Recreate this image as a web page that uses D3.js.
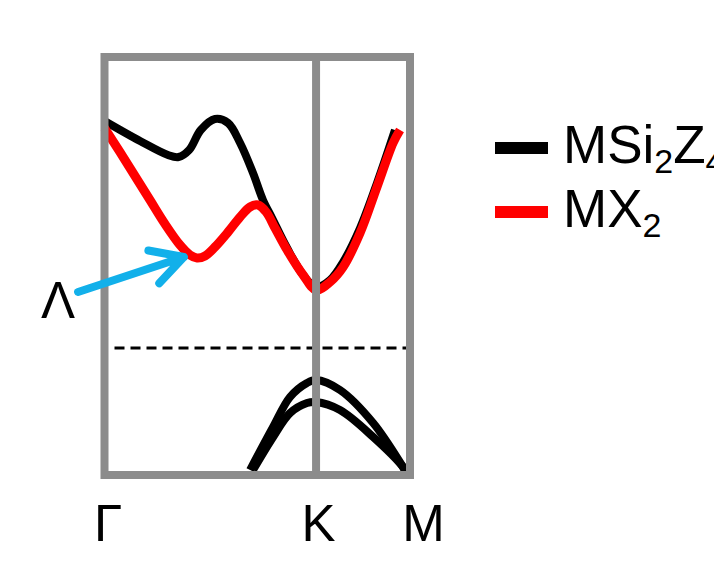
<!DOCTYPE html>
<html>
<head>
<meta charset="utf-8">
<script src="https://cdn.jsdelivr.net/npm/d3@7"></script>
<style>
  html, body { margin: 0; padding: 0; background: #fff; }
  svg { display: block; }
  text { font-family: "Liberation Sans", Arial, sans-serif; fill: #000; }
</style>
</head>
<body>
<svg id="chart" width="714" height="564"></svg>
<script>
// ---- data ----
const kLabels = ["Γ", "K", "M"];
const kTicks = [0, 1, 1.444];

// conduction band, MSi2Z4 (black): [k, E]
const msiConduction = [
  [0, 2.27], [0.168, 2.07], [0.300, 1.93], [0.350, 1.91], [0.400, 1.98],
  [0.455, 2.18], [0.522, 2.29], [0.584, 2.25], [0.641, 2.05], [0.702, 1.75],
  [0.749, 1.48], [0.792, 1.30], [0.863, 1.00], [0.939, 0.73], [1.0, 0.61],
  [1.066, 0.68], [1.128, 0.86], [1.208, 1.20], [1.288, 1.65], [1.373, 2.18]
];
// conduction band, MX2 (red)
const mxConduction = [
  [0, 2.20], [0.073, 1.96], [0.144, 1.72], [0.215, 1.48], [0.286, 1.24],
  [0.357, 1.03], [0.404, 0.93], [0.437, 0.90], [0.475, 0.92], [0.522, 1.01],
  [0.584, 1.16], [0.641, 1.31], [0.688, 1.41], [0.726, 1.43], [0.764, 1.36],
  [0.806, 1.20], [0.863, 0.98], [0.939, 0.73], [1.0, 0.58], [1.066, 0.66],
  [1.128, 0.81], [1.208, 1.15], [1.288, 1.61], [1.364, 2.05], [1.397, 2.18]
];
// valence bands, MSi2Z4 (black)
const msiValenceUpper = [
  [0.688, -1.22], [0.797, -0.79], [0.877, -0.49], [0.957, -0.35], [1.0, -0.32],
  [1.113, -0.42], [1.270, -0.75], [1.411, -1.19], [1.425, -1.24]
];
const msiValenceLower = [
  [0.702, -1.22], [0.797, -0.89], [0.877, -0.65], [0.957, -0.55], [1.0, -0.54],
  [1.113, -0.62], [1.270, -0.89], [1.411, -1.19], [1.425, -1.24]
];
const fermiLevel = 0;
// annotation arrow (k, E) for the Λ valley
const lambdaArrow = { from: [-0.125, 0.56], to: [0.375, 0.91] };

// ---- layout ----
const svg = d3.select("#chart");
const x = d3.scaleLinear().domain([0, 1.444]).range([104.5, 410]);
const y = d3.scaleLinear().domain([-1.27, 2.91]).range([475, 57]);
const gray = "#8c8c8c";
const cyan = "#12b0ea";

const line = d3.line().x(d => x(d[0])).y(d => y(d[1])).curve(d3.curveCatmullRom.alpha(0.5));

// bands
const bands = [
  { data: msiValenceUpper, color: "#000", w: 8 },
  { data: msiValenceLower, color: "#000", w: 8 },
  { data: msiConduction, color: "#000", w: 8 },
  { data: mxConduction, color: "#ff0000", w: 9 }
];
svg.append("g").selectAll("path").data(bands).join("path")
  .attr("d", d => line(d.data))
  .attr("fill", "none")
  .attr("stroke", d => d.color)
  .attr("stroke-width", d => d.w)
  .attr("stroke-linejoin", "round");

// Fermi level dashed
svg.append("line")
  .attr("x1", x(0) + 10).attr("x2", x(1.444) + 3)
  .attr("y1", y(fermiLevel)).attr("y2", y(fermiLevel))
  .attr("stroke", "#000").attr("stroke-width", 3)
  .attr("stroke-dasharray", "10,6");

// frame
svg.append("rect")
  .attr("x", x(0)).attr("y", y(2.91))
  .attr("width", x(1.444) - x(0)).attr("height", y(-1.27) - y(2.91))
  .attr("fill", "none").attr("stroke", gray).attr("stroke-width", 8);
svg.append("line")
  .attr("x1", x(1)).attr("x2", x(1))
  .attr("y1", y(2.91)).attr("y2", y(-1.27))
  .attr("stroke", gray).attr("stroke-width", 8);

// k-point labels via axis
const xAxis = d3.axisBottom(x).tickValues(kTicks)
  .tickFormat((d, i) => kLabels[i]).tickSize(0).tickPadding(0);
const ax = svg.append("g").attr("transform", "translate(0,541)").call(xAxis);
ax.select(".domain").remove();
ax.selectAll("text")
  .attr("dy", 0)
  .attr("y", 0)
  .attr("font-size", 51)
  .attr("font-family", "Liberation Sans, Arial, sans-serif")
  .attr("fill", "#000")
  .attr("dx", (d, i) => i === 2 ? 13 : (i === 0 ? 3 : 2));

// Λ arrow
const ax0 = x(lambdaArrow.from[0]), ay0 = y(lambdaArrow.from[1]);
const ax1 = x(lambdaArrow.to[0]), ay1 = y(lambdaArrow.to[1]);
const ang = Math.atan2(ay1 - ay0, ax1 - ax0);
const headLen = 36, headAng = 0.5;
const arrowPath = d3.path();
arrowPath.moveTo(ax0, ay0); arrowPath.lineTo(ax1, ay1);
arrowPath.moveTo(ax1 - headLen * Math.cos(ang - headAng), ay1 - headLen * Math.sin(ang - headAng));
arrowPath.lineTo(ax1, ay1);
arrowPath.lineTo(ax1 - headLen * Math.cos(ang + headAng), ay1 - headLen * Math.sin(ang + headAng));
svg.append("path").attr("d", arrowPath.toString())
  .attr("fill", "none").attr("stroke", cyan).attr("stroke-width", 8)
  .attr("stroke-linecap", "round").attr("stroke-linejoin", "round");
svg.append("text").attr("x", 58).attr("y", 318)
  .attr("text-anchor", "middle").attr("font-size", 51).text("Λ");

// legend
const legend = [
  { color: "#000", parts: [["MSi", false], ["2", true], ["Z", false], ["4", true]] },
  { color: "#ff0000", parts: [["MX", false], ["2", true]] }
];
const lg = svg.append("g");
legend.forEach((d, i) => {
  const yy = 148 + i * 64;
  lg.append("line").attr("x1", 495).attr("x2", 548).attr("y1", yy).attr("y2", yy)
    .attr("stroke", d.color).attr("stroke-width", 12);
  const t = lg.append("text").attr("x", 563).attr("y", yy + 15).attr("font-size", 53);
  d.parts.forEach((p, j) => {
    const ts = t.append("tspan").text(p[0]);
    if (p[1]) ts.attr("font-size", 34).attr("dy", 10);
    else if (j > 0) ts.attr("dy", -10);
  });
});
</script>
</body>
</html>
